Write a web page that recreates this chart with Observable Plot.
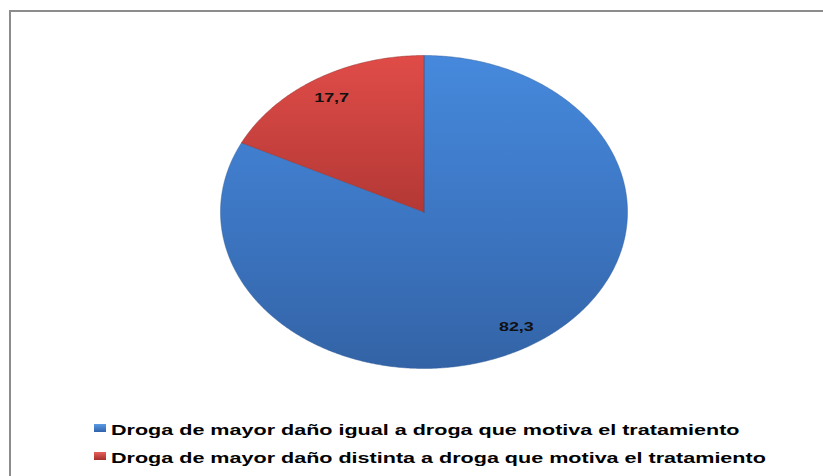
<!DOCTYPE html>
<html>
<head>
<meta charset="utf-8">
<script src="https://cdn.jsdelivr.net/npm/d3@7"></script>
<script src="https://cdn.jsdelivr.net/npm/@observablehq/plot@0.6"></script>
<style>
  html, body { margin: 0; padding: 0; background: #fff; }
  body { width: 823px; height: 476px; overflow: hidden; position: relative; font-family: "Liberation Sans", Arial, sans-serif; }
  #frame { position: absolute; left: 9px; top: 10px; width: 900px; height: 520px; border-left: 2px solid #8c8c8c; border-top: 2px solid #8c8c8c; pointer-events: none; box-sizing: border-box; }
  #chart svg { display: block; }
  #legend { position: relative; height: 60px; }
  .item { position: relative; height: 27.5px; line-height: 27.5px; }
  .sw { position: absolute; left: 94px; top: 8px; width: 12px; height: 8px; }
  .txt { position: absolute; left: 111px; top: 0; white-space: nowrap; font-weight: bold; font-size: 15.5px; color: #000; transform: scaleX(1.39); transform-origin: 0 50%; }
</style>
</head>
<body>
<div id="chart"></div>
<div id="legend"></div>
<div id="frame"></div>
<script>
const categories = [
  "Droga de mayor daño igual a droga que motiva el tratamiento",
  "Droga de mayor daño distinta a droga que motiva el tratamiento"
];
const values = [82.3, 17.7];
const valueLabels = ["82,3", "17,7"];
const fills = ["url(#gBlue)", "url(#gRed)"];
const swatchColors = ["linear-gradient(#5b9be6, #2f63ab)", "linear-gradient(#e8605b, #a32e2b)"];

const data = categories.map((c, i) => ({cat: c, value: values[i], label: valueLabels[i]}));
const arcs = d3.pie().sort(null).value(d => d.value)(data);

function slicePoints(a) {
  const pts = [{x: 0, y: 0, cat: a.data.cat}];
  const n = Math.max(2, Math.ceil((a.endAngle - a.startAngle) / (Math.PI / 360)));
  for (let k = 0; k <= n; k++) {
    const t = a.startAngle + (a.endAngle - a.startAngle) * k / n;
    pts.push({x: Math.sin(t), y: Math.cos(t), cat: a.data.cat});
  }
  pts.push({x: 0, y: 0, cat: a.data.cat});
  return pts;
}

const labelPos = arcs.map(a => {
  const m = (a.startAngle + a.endAngle) / 2;
  return {x: 0.86 * Math.sin(m), y: 0.86 * Math.cos(m), label: a.data.label};
});

const W = 823, H = 416;
const plot = Plot.plot({
  width: W,
  height: H,
  marginLeft: 220,
  marginRight: 823 - 627,
  marginTop: 55,
  marginBottom: H - 368,
  x: {domain: [-1, 1], axis: null},
  y: {domain: [-1, 1], axis: null},
  style: {background: "transparent", overflow: "visible"},
  marks: [
    ...arcs.map((a, i) => Plot.line(slicePoints(a), {
      x: "x", y: "y", fill: fills[i], stroke: i === 0 ? "#2d5a99" : "#8a2a27",
      strokeWidth: 1, strokeOpacity: 0.45, curve: "linear"
    })),
    Plot.text(labelPos, {x: "x", y: "y", text: "label", fontWeight: "bold", fontSize: 13.5, fill: "#111", fontFamily: "Liberation Sans, Arial, sans-serif"})
  ]
});

// gradients
const defs = d3.create("svg:defs");
const gb = defs.append("linearGradient").attr("id", "gBlue").attr("gradientUnits", "userSpaceOnUse")
  .attr("x1", 0).attr("y1", 55).attr("x2", 0).attr("y2", 368);
gb.append("stop").attr("offset", 0).attr("stop-color", "#4689dc");
gb.append("stop").attr("offset", 0.5).attr("stop-color", "#3d77c4");
gb.append("stop").attr("offset", 1).attr("stop-color", "#3363a6");
const gr = defs.append("linearGradient").attr("id", "gRed").attr("gradientUnits", "userSpaceOnUse")
  .attr("x1", 0).attr("y1", 55).attr("x2", 0).attr("y2", 368);
gr.append("stop").attr("offset", 0).attr("stop-color", "#e04c48");
gr.append("stop").attr("offset", 0.5).attr("stop-color", "#b33835");
gr.append("stop").attr("offset", 1).attr("stop-color", "#9a2f2c");
plot.insertBefore(defs.node(), plot.firstChild);

// horizontal stretch of the value labels, as in the reference
d3.select(plot).selectAll("text").each(function() {
  const t = this.getAttribute("transform") || "";
  this.setAttribute("transform", t + " scale(1.33,1)");
});

document.getElementById("chart").appendChild(plot);

const legend = d3.select("#legend");
categories.forEach((c, i) => {
  const item = legend.append("div").attr("class", "item");
  item.append("span").attr("class", "sw").style("background", swatchColors[i]);
  item.append("span").attr("class", "txt").text(c);
});
</script>
</body>
</html>
